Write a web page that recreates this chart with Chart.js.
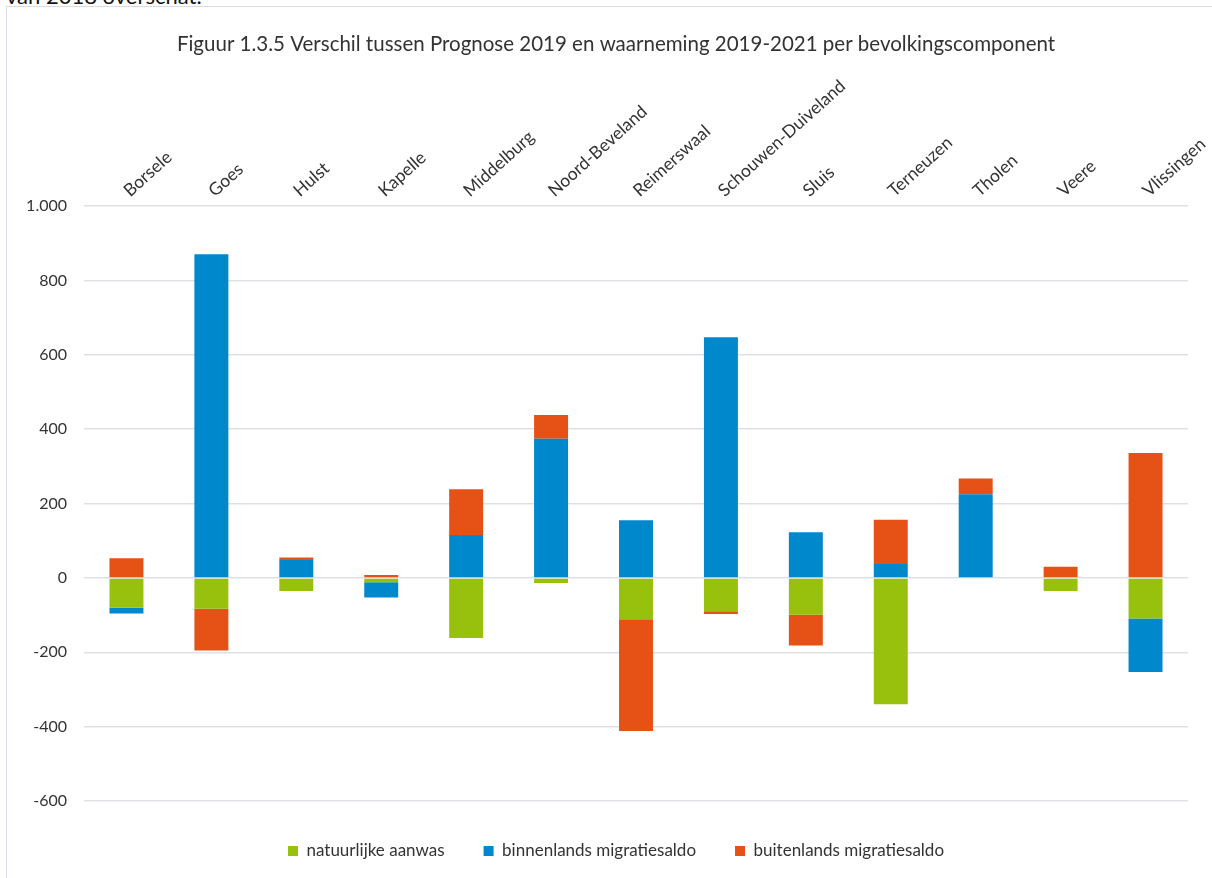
<!DOCTYPE html>
<html>
<head>
<meta charset="utf-8">
<script src="https://cdn.jsdelivr.net/npm/chart.js@4.4.1/dist/chart.umd.min.js"></script>
<style>
  html, body { margin: 0; padding: 0; background: #fff; overflow: hidden; }
  #wrap { position: relative; width: 1212px; height: 878px; }
  #toptext { position: absolute; left: 6px; top: -15px; font-family: Lato, sans-serif; font-size: 22px; line-height: 22px; color: #111; white-space: nowrap; }
  #frame { position: absolute; left: 6px; top: 6px; width: 1300px; height: 1000px; border-left: 1.5px solid #d9dde3; border-top: 1.5px solid #d9dde3; }
  canvas { position: absolute; left: 0; top: 0; }
</style>
</head>
<body>
<div id="wrap">
  <div id="toptext">van 2018 overschat.</div>
  <div id="frame"></div>
  <canvas id="c" width="1212" height="878"></canvas>
</div>
<script>
const categories = ['Borsele','Goes','Hulst','Kapelle','Middelburg','Noord-Beveland','Reimerswaal','Schouwen-Duiveland','Sluis','Terneuzen','Tholen','Veere','Vlissingen'];
const natuurlijkeAanwas = [-80, -83, -35, -12, -162, -14, -111, -90, -99, -340, 0, -35, -109];
const binnenlandsMigratiesaldo = [-16, 870, 48, -41, 115, 374, 155, 647, 123, 37, 225, 0, -144];
const buitenlandsMigratiesaldo = [53, -112, 7, 8, 123, 64, -301, -7, -83, 119, 42, 30, 336];
const seriesNames = ['natuurlijke aanwas', 'binnenlands migratiesaldo', 'buitenlands migratiesaldo'];
const titleText = 'Figuur 1.3.5 Verschil tussen Prognose 2019 en waarneming 2019-2021 per bevolkingscomponent';
const yMin = -600, yMax = 1000, yStep = 200;

const FONT = 'Lato, "Open Sans", sans-serif';
const TXT = '#333333';

function fmt(v) {
  const neg = v < 0;
  let s = String(Math.abs(v));
  s = s.replace(/\B(?=(\d{3})+(?!\d))/g, '.');
  return (neg ? '-' : '') + s;
}

new Chart(document.getElementById('c'), {
  type: 'bar',
  data: {
    labels: categories,
    datasets: [
      { label: seriesNames[0], data: natuurlijkeAanwas, backgroundColor: '#98c10e' },
      { label: seriesNames[1], data: binnenlandsMigratiesaldo, backgroundColor: '#0088cc' },
      { label: seriesNames[2], data: buitenlandsMigratiesaldo, backgroundColor: '#e65216' }
    ]
  },
  options: {
    responsive: false,
    animation: false,
    devicePixelRatio: 1,
    layout: { padding: { top: 32, left: 44, right: 24, bottom: 8.5 } },
    datasets: { bar: { barPercentage: 0.4, categoryPercentage: 1, borderWidth: 0 } },
    plugins: {
      title: {
        display: true, text: titleText, color: TXT,
        font: { family: FONT, size: 20.5, weight: 'normal' },
        padding: { top: 0, bottom: 0 }
      },
      legend: {
        position: 'bottom',
        labels: {
          color: TXT, font: { family: FONT, size: 17 },
          boxWidth: 10, boxHeight: 10, padding: 39
        }
      },
      tooltip: { enabled: false }
    },
    scales: {
      x: {
        position: 'top', stacked: true,
        grid: { display: false, drawTicks: false }, border: { display: false },
        ticks: { color: TXT, font: { family: FONT, size: 17.5 }, minRotation: 42, maxRotation: 42, padding: 5, labelOffset: 14, autoSkip: false },
        afterFit: s => { s.height = 206 - 32 - 20.5 * 1.2; s.paddingLeft = 0; s.paddingRight = 0; }
      },
      x2: {
        position: 'bottom', type: 'category', display: true,
        grid: { display: false, drawTicks: false }, border: { display: false },
        ticks: { display: false },
        afterFit: s => { s.height = 2.5; s.paddingLeft = 0; s.paddingRight = 0; }
      },
      y: {
        stacked: true, min: yMin, max: yMax,
        grid: { color: '#dde1e6', lineWidth: 1.5, drawTicks: false },
        border: { display: false },
        ticks: { stepSize: yStep, color: TXT, font: { family: FONT, size: 16 }, padding: 17, callback: v => fmt(v) },
        afterFit: s => { s.width = 40; s._computeLabelArea = function () { return undefined; }; }
      }
    }
  }
});
</script>
</body>
</html>
